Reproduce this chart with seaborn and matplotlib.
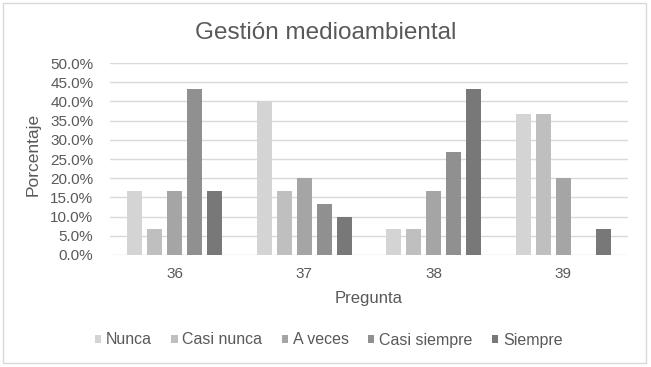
"""
Gestión medioambiental - grouped bar chart by question
"""

import pandas as pd
import matplotlib.pyplot as plt
import seaborn as sns
from matplotlib.ticker import FuncFormatter, MultipleLocator
from matplotlib.patches import Rectangle

# Data (percent of respondents)
preguntas = ['36', '37', '38', '39']
respuestas = ['Nunca', 'Casi nunca', 'A veces', 'Casi siempre', 'Siempre']
nunca = [16.7, 40.0, 6.7, 36.7]
casi_nunca = [6.7, 16.7, 6.7, 36.7]
a_veces = [16.7, 20.0, 16.7, 20.0]
casi_siempre = [43.3, 13.3, 26.7, 0.0]
siempre = [16.7, 10.0, 43.3, 6.7]
colores = ['#d4d4d4', '#bfbfbf', '#a5a5a5', '#909090', '#787878']

series = [nunca, casi_nunca, a_veces, casi_siempre, siempre]
rows = []
for resp, vals in zip(respuestas, series):
    for preg, v in zip(preguntas, vals):
        rows.append({'Pregunta': preg, 'Respuesta': resp, 'Porcentaje': v})
df = pd.DataFrame(rows)

sns.set_theme(style='white')
plt.rcParams['font.family'] = ['Liberation Sans', 'DejaVu Sans']
text_color = '#595959'

fig = plt.figure(figsize=(6.51, 3.67), dpi=100)
ax = fig.add_axes([110 / 651, 1 - 255 / 367, 518 / 651, 192 / 367])

sns.barplot(data=df, x='Pregunta', y='Porcentaje', hue='Respuesta',
            order=preguntas, hue_order=respuestas, palette=colores,
            width=0.77, gap=0.25, linewidth=0, ax=ax, zorder=3)

# Axes styling
ax.set_ylim(0, 50)
ax.yaxis.set_major_locator(MultipleLocator(5))
ax.yaxis.set_major_formatter(FuncFormatter(lambda v, _: f'{v:.1f}%'))
ax.grid(axis='y', color='#d9d9d9', linewidth=1, zorder=0)
ax.set_axisbelow(True)
for s in ax.spines.values():
    s.set_visible(False)
ax.tick_params(axis='both', length=0, labelsize=11, colors=text_color)
ax.tick_params(axis='y', pad=12)
ax.tick_params(axis='x', pad=9)
ax.set_xlabel('')
ax.set_ylabel('')

# Legend
handles, labels = ax.get_legend_handles_labels()
ax.get_legend().remove()
fig.legend(handles, labels, loc='center', bbox_to_anchor=(0.505, 1 - 340 / 367),
           ncol=5, frameon=False, fontsize=11.5, labelcolor=text_color,
           handlelength=0.4, handleheight=0.4, handletextpad=0.3,
           columnspacing=1.2)

# Titles
fig.text(0.5, 1 - 39 / 367, 'Gestión medioambiental', ha='center',
         va='baseline', fontsize=17.5, color=text_color)
fig.text(369 / 651, 1 - 298 / 367, 'Pregunta', ha='center', va='center',
         fontsize=12, color=text_color)
fig.text(33 / 651, 1 - 154 / 367, 'Porcentaje', ha='center', va='center',
         rotation=90, fontsize=12.5, color=text_color)

# Outer border
fig.patches.append(Rectangle((3 / 651, 4 / 367), 643 / 651, 360 / 367,
                             transform=fig.transFigure, fill=False,
                             edgecolor='#d9d9d9', linewidth=1))

fig.savefig('out.png', dpi=100)
